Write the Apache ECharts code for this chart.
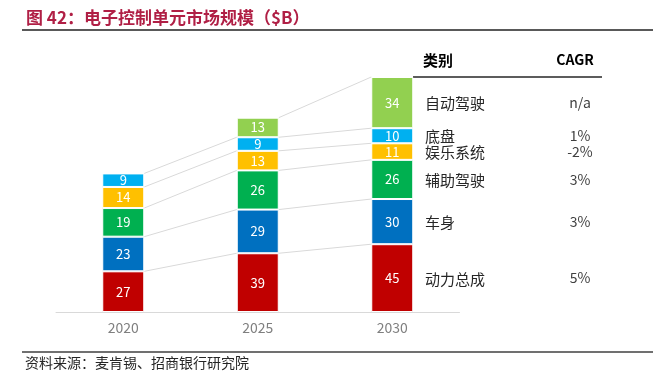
<!DOCTYPE html>
<html>
<head>
<meta charset="utf-8">
<script src="https://cdn.jsdelivr.net/npm/echarts@6/dist/echarts.min.js"></script>
<style>
  html, body { margin: 0; padding: 0; background: #fff; }
  #main { width: 653px; height: 375px; }
</style>
</head>
<body>
<div id="main"></div>
<script>
// 数据
var years = ['2020', '2025', '2030'];
var names = ['动力总成', '车身', '辅助驾驶', '娱乐系统', '底盘', '自动驾驶'];
var powertrain = [27, 39, 45];
var bodyVal = [23, 29, 30];
var adas = [19, 26, 26];
var infotainment = [14, 13, 11];
var chassis = [9, 9, 10];
var autonomous = [null, 13, 34];
var cagr = ['5%', '3%', '3%', '-2%', '1%', 'n/a'];

var seriesData = [powertrain, bodyVal, adas, infotainment, chassis, autonomous];
var colors = ['#c00000', '#0070c0', '#00b050', '#ffc000', '#00b0f0', '#92d050'];
var font = '"Noto Sans CJK SC", "Noto Sans", sans-serif';
var barW = 42;

var myChart = echarts.init(document.getElementById('main'));

var series = [];
for (var s = 0; s < seriesData.length; s++) {
    series.push({
        name: names[s],
        type: 'bar',
        stack: 'total',
        barWidth: barW,
        data: seriesData[s],
        z: 3,
        itemStyle: { color: colors[s], borderColor: '#fff', borderWidth: 1 },
        label: {
            show: true,
            position: 'inside',
            color: '#fff',
            fontSize: 13,
            fontFamily: font
        }
    });
}

var option = {
    animation: false,
    grid: { left: 56, right: 193.5, top: 77, bottom: 63 },
    xAxis: {
        type: 'category',
        data: years,
        axisLine: { lineStyle: { color: '#d9d9d9', width: 1 } },
        axisTick: { show: false },
        axisLabel: { color: '#7f7f7f', fontSize: 14, margin: 9, fontFamily: font }
    },
    yAxis: { type: 'value', min: 0, max: 156, show: false, splitLine: { show: false } },
    series: series
};
myChart.setOption(option);

// 连接线和右侧表格
var graphic = [];
var px = function (i, v) { return myChart.convertToPixel({ gridIndex: 0 }, [i, v]); };

// 每个系列在各年份的累计高度
var cum = [];
var run = [0, 0, 0];
for (var s = 0; s < seriesData.length; s++) {
    cum[s] = [];
    for (var i = 0; i < years.length; i++) {
        var v = seriesData[s][i];
        if (v == null) { cum[s][i] = null; continue; }
        run[i] += v;
        cum[s][i] = run[i];
    }
}

var lineStyle = { stroke: '#d9d9d9', lineWidth: 1 };
for (var s = 0; s < seriesData.length; s++) {
    for (var i = 0; i < years.length - 1; i++) {
        if (cum[s][i] == null || cum[s][i + 1] == null) continue;
        var a = px(i, cum[s][i]);
        var b = px(i + 1, cum[s][i + 1]);
        graphic.push({
            type: 'line', z: 1, silent: true,
            shape: { x1: a[0] + barW / 2, y1: a[1], x2: b[0] - barW / 2, y2: b[1] },
            style: lineStyle
        });
    }
}

// 2030 行分隔线 + 文字
var last = years.length - 1;
for (var s = 0; s < seriesData.length; s++) {
    var top = px(last, cum[s][last]);
    var mid = px(last, cum[s][last] - seriesData[s][last] / 2);
    if (s < seriesData.length - 1) {
        graphic.push({
            type: 'line', z: 1, silent: true,
            shape: { x1: top[0] + barW / 2, y1: top[1], x2: 608, y2: top[1] },
            style: lineStyle
        });
    }
    graphic.push({
        type: 'text', x: 425, y: mid[1] + 1,
        style: { text: names[s], fill: '#262626', font: '15px ' + font, verticalAlign: 'middle' }
    });
    graphic.push({
        type: 'text', z: 5,
        x: 580, y: mid[1],
        style: { text: cagr[s], fill: '#404040', font: '14px ' + font, align: 'center', verticalAlign: 'middle' }
    });
}

// 表头
graphic.push(
    { type: 'text', x: 423, y: 60, style: { text: '类别', fill: '#000', font: 'bold 15px ' + font, verticalAlign: 'middle' } },
    { type: 'text', x: 575, y: 60, style: { text: 'CAGR', fill: '#000', font: 'bold 14px ' + font, align: 'center', verticalAlign: 'middle' } },
    { type: 'line', shape: { x1: 413, y1: 77, x2: 602, y2: 77 }, style: { stroke: '#262626', lineWidth: 1.5 } }
);

// 标题与来源
graphic.push(
    { type: 'text', x: 26, y: 18, style: { text: '图 42：电子控制单元市场规模（$B）', fill: '#b01f45', font: 'bold 17px ' + font, verticalAlign: 'middle' } },
    { type: 'line', shape: { x1: 22, y1: 30, x2: 653, y2: 30 }, style: { stroke: '#595959', lineWidth: 2 } },
    { type: 'line', shape: { x1: 22, y1: 352, x2: 653, y2: 352 }, style: { stroke: '#404040', lineWidth: 1.5 } },
    { type: 'text', x: 25, y: 363, style: { text: '资料来源：麦肯锡、招商银行研究院', fill: '#262626', font: '14px ' + font, verticalAlign: 'middle' } }
);

myChart.setOption({ graphic: graphic });
</script>
</body>
</html>
